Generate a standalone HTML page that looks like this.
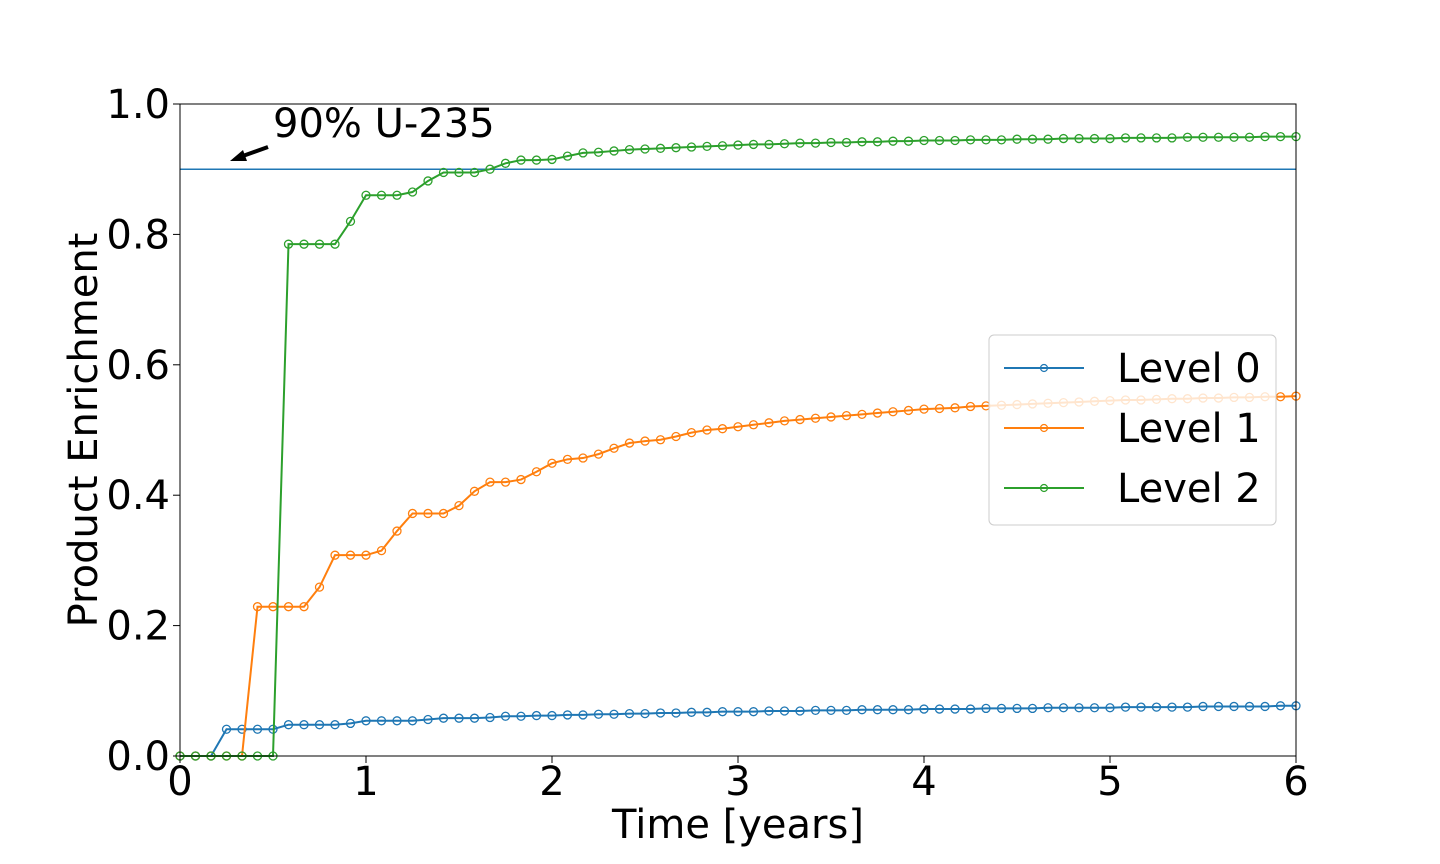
<!DOCTYPE html>
<html><head><meta charset="utf-8"><style>
html,body{margin:0;padding:0;background:#fff;width:1440px;height:864px;overflow:hidden}
svg{font-family:"DejaVu Sans","Liberation Sans",sans-serif}
</style></head><body>
<svg id="chart" width="1440" height="864" xmlns="http://www.w3.org/2000/svg">
<rect width="1440" height="864" fill="#fff"/>
<g id="plot"></g>
</svg>
<script>
const xTicks=[0,1,2,3,4,5,6];
const yTicks=[0.0,0.2,0.4,0.6,0.8,1.0];
const yTickLabels=["0.0","0.2","0.4","0.6","0.8","1.0"];
const seriesNames=["Level 0","Level 1","Level 2"];
const level0=[0,0,0,0.041,0.041,0.041,0.041,0.048,0.048,0.048,0.048,0.050,0.054,0.054,0.054,0.054,0.056,0.058,0.058,0.058,0.059,0.061,0.061,0.062,0.062,
0.063,0.063,0.064,0.064,0.065,0.065,0.066,0.066,0.067,0.067,0.068,0.068,0.068,0.069,0.069,0.069,0.070,0.070,0.070,0.071,0.071,0.071,0.071,0.072,0.072,0.072,0.072,0.073,0.073,0.073,0.073,0.074,0.074,0.074,0.074,0.074,0.075,0.075,0.075,0.075,0.075,0.076,0.076,0.076,0.076,0.076,0.077,0.077];
const level1=[0,0,0,0,0,0.229,0.229,0.229,0.229,0.259,0.308,0.308,0.308,0.315,0.345,0.372,0.372,0.372,0.384,0.406,0.420,0.420,0.424,0.436,0.449,0.455,0.457,0.463,0.472,0.480,0.483,0.485,
0.49,0.496,0.5,0.502,0.505,0.508,0.511,0.514,0.516,0.518,0.52,0.522,0.524,0.526,0.528,0.53,0.532,0.533,0.534,0.536,0.537,0.538,0.539,0.54,0.541,0.542,0.543,0.544,0.545,0.546,0.546,0.547,0.548,0.548,0.549,0.549,0.55,0.55,0.551,0.551,0.552];
const level2=[0,0,0,0,0,0,0,0.785,0.785,0.785,0.785,0.82,0.86,0.86,0.86,0.865,0.882,0.895,0.895,0.895,0.90,0.909,0.914,0.914,0.915,0.92,
0.925,0.926,0.928,0.930,0.931,0.932,0.933,0.934,0.935,0.936,0.937,0.938,0.938,0.939,0.940,0.940,0.941,0.941,0.942,0.942,0.943,0.943,0.944,0.944,0.944,0.945,0.945,0.945,0.946,0.946,0.946,0.947,0.947,0.947,0.947,0.948,0.948,0.948,0.948,0.949,0.949,0.949,0.949,0.949,0.950,0.950,0.950];
const thresholdValue=0.9;
const colors=["#1f77b4","#ff7f0e","#2ca02c"];
const X0=180,X1=1296,Y0=756,Y1=104;
const sx=v=>X0+(v/6)*(X1-X0);
const sy=v=>Y0-(v/1)*(Y0-Y1);
const NS="http://www.w3.org/2000/svg";
const g=document.getElementById('plot');
function mk(tag,attrs,parent){const e=document.createElementNS(NS,tag);for(const k in attrs)e.setAttribute(k,attrs[k]);(parent||g).appendChild(e);return e;}
const FS=40;

let th=mk('line',{x1:X0,x2:X1,y1:sy(thresholdValue),y2:sy(thresholdValue),stroke:'#1f77b4','stroke-width':1.5});



[level0,level1,level2].forEach((arr,si)=>{
  const sg=mk('g',{});
  
  
  const pts=arr.map((v,i)=>sx(i/12).toFixed(2)+','+sy(v).toFixed(2)).join(' ');
  const pl=mk('polyline',{points:pts,fill:'none',stroke:colors[si],'stroke-width':2},sg);
  
  
  arr.forEach((v,i)=>{
    const c=mk('circle',{cx:sx(i/12),cy:sy(v),r:4,fill:'none',stroke:colors[si],'stroke-width':1.3},sg);
    
    
  });
});

let fr=mk('rect',{x:X0,y:Y1,width:X1-X0,height:Y0-Y1,fill:'none',stroke:'#000','stroke-width':1});



xTicks.forEach(t=>{
  const l=mk('line',{x1:sx(t),x2:sx(t),y1:Y0,y2:Y0+7,stroke:'#000','stroke-width':1});
  
  
  const tx=mk('text',{x:sx(t),y:Y0+39,'font-size':FS,'text-anchor':'middle'});
  tx.textContent=t;
  
  
});
yTicks.forEach((t,i)=>{
  const l=mk('line',{x1:X0-7,x2:X0,y1:sy(t),y2:sy(t),stroke:'#000','stroke-width':1});
  
  
  const tx=mk('text',{x:X0-10,y:sy(t)+14,'font-size':FS,'text-anchor':'end'});
  tx.textContent=yTickLabels[i];
  
  
});
let xt=mk('text',{x:(X0+X1)/2,y:838,'font-size':FS,'text-anchor':'middle'});
xt.textContent='Time [years]';


let yt=mk('text',{x:0,y:0,'font-size':FS,'text-anchor':'middle',transform:'translate(97,430) rotate(-90)'});
yt.textContent='Product Enrichment';



let an=mk('text',{x:273,y:137,'font-size':FS});
an.textContent='90% U-235';


let ar=mk('line',{x1:268,y1:147,x2:240,y2:157,stroke:'#000','stroke-width':4});


let ah=mk('polygon',{points:'230,161 243,150 247,161',fill:'#000'});



const lg=mk('g',{});


const lb=mk('rect',{x:989,y:335,width:287,height:190,rx:5,fill:'#fff','fill-opacity':0.8,stroke:'#ccc','stroke-width':1},lg);


seriesNames.forEach((n,i)=>{
  const y=368+i*60;
  const e=mk('g',{},lg);
  
  
  mk('line',{x1:1004,x2:1084,y1:y,y2:y,stroke:colors[i],'stroke-width':2},e);
  mk('circle',{cx:1044,cy:y,r:3.5,fill:'none',stroke:colors[i],'stroke-width':1.2},e);
  const t=mk('text',{x:1117,y:y+14,'font-size':FS},e);
  t.textContent=n;
});
</script>
</body></html>
